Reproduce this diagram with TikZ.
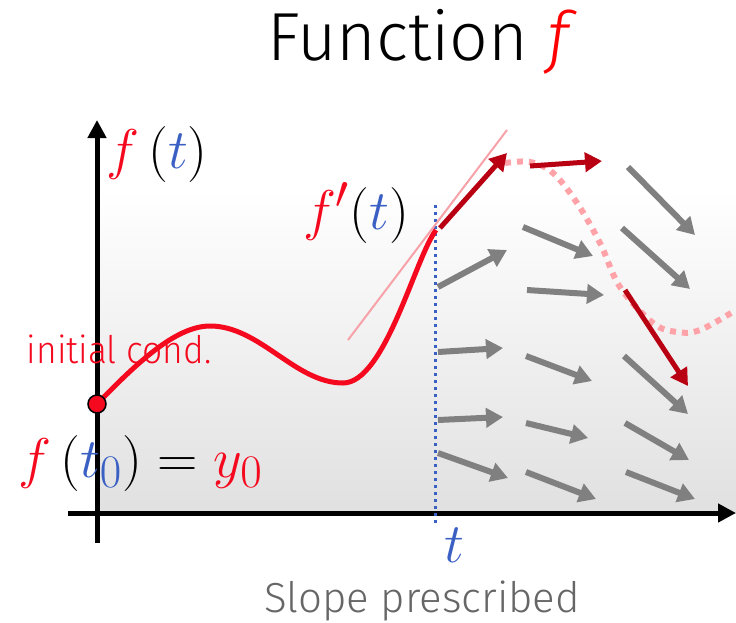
\documentclass[tikz,border=0pt]{standalone}
\usepackage{fontspec}
\setmainfont{Lato}
\newfontfamily\lightfont{Fira Sans Light}
\usetikzlibrary{arrows.meta}
\definecolor{cred}{HTML}{F5091E}
\definecolor{dred}{HTML}{B80012}
\definecolor{pinkd}{HTML}{FFA3A9}
\definecolor{tanpink}{HTML}{F7A1A8}
\definecolor{tblue}{HTML}{3A60C4}
\definecolor{agray}{HTML}{808080}
\definecolor{sgray}{HTML}{666666}
\newcommand{\bigmath}[2]{\scalebox{#1}{\Huge$#2$}}
\tikzset{
  vec/.style={agray, line width=6pt, -{Triangle[length=17pt,width=19pt]}},
  dvec/.style={dred, line width=5pt, -{Triangle[length=17pt,width=19pt]}},
  axisline/.style={black, line width=5pt, -{Triangle[length=18pt,width=18pt]}},
  lbl/.style={inner sep=0pt, outer sep=0pt},
}
\begin{document}
\begin{tikzpicture}[x=1pt,y=-1pt]
\useasboundingbox (0,0) rectangle (736,622);
% background gradient
\shade[top color=white, bottom color=black!12] (97,190) rectangle (736,513);
% axes
\coordinate (yb) at (97,543);
\coordinate (yt) at (97,120);
\coordinate (xl) at (68,513);
\coordinate (xr) at (736,513);
\draw[axisline] (yb) -- (yt);
\draw[axisline] (xl) -- (xr);
% dotted time line
\coordinate (tl1) at (435,205);
\coordinate (tl2) at (435,526);
\draw[tblue, line width=3pt, dash pattern=on 3pt off 4pt] (tl1) -- (tl2);
% dotted continuation
\draw[pinkd, line width=6pt, dash pattern=on 6pt off 6pt] plot[smooth, tension=0.6] coordinates {(505,163) (530,162) (553,173) (577,203) (600,243) (620,287) (653,323) (677,332) (700,330) (736,310)};
% tangent
\coordinate (tg1) at (348,340);
\coordinate (tg2) at (507,130);
\draw[tanpink, line width=2pt] (tg1) -- (tg2);
% solution curve
\coordinate (p0) at (97,404);
\draw[cred, line width=5pt] (p0) .. controls (135,365) and (175,326) .. (210,326) .. controls (260,326) and (295,383) .. (343,383) .. controls (385,383) and (415,258) .. (436,230);
% gray slope field
\draw[vec] (628,167) -- (695,235);
\draw[vec] (523,227) -- (593,256);
\draw[vec] (622,228) -- (690,289);
\draw[vec] (438,287) -- (507,250);
\draw[vec] (527,290) -- (604,295);
\draw[vec] (438,352) -- (503,348);
\draw[vec] (526,356) -- (592,381);
\draw[vec] (624,356) -- (688,414);
\draw[vec] (438,420) -- (503,417);
\draw[vec] (526,423) -- (588,438);
\draw[vec] (625,423) -- (689,460);
\draw[vec] (438,453) -- (508,478);
\draw[vec] (526,472) -- (596,499);
\draw[vec] (626,472) -- (695,499);
% dark red steps
\draw[dvec] (440,228) -- (507,153);
\draw[dvec] (530,166) -- (602,161);
\draw[dvec] (625,290) -- (688,386);
% initial point
\node[circle, fill=cred, draw=black, line width=1.5pt, minimum size=18pt, inner sep=0pt] (ic) at (p0) {};
% labels
\node[lbl, anchor=base] (title) at (422,60) {\fontsize{68}{78}\selectfont\lightfont Function \textcolor{red}{\textit{f}}};
\node[lbl, anchor=base] (slope) at (422,612) {\fontsize{42}{48}\selectfont\lightfont\color{sgray} Slope prescribed};
\node[lbl, anchor=base west, text=cred] (init) at (27,363) {\scalebox{0.93}[1]{\fontsize{38}{44}\selectfont\lightfont initial cond.}};
\node[lbl, anchor=base west] (fy) at (106,168) {\bigmath{2.25}{\textcolor{cred}{f}\,(\textcolor{tblue}{t})}};
\node[lbl, anchor=base west] (fp) at (303,229) {\bigmath{2.25}{\textcolor{cred}{f'}(\textcolor{tblue}{t})}};
\node[lbl, anchor=base west] (f0) at (18,477) {\bigmath{2.25}{\textcolor{cred}{f}\,(\textcolor{tblue}{t_0})=\textcolor{cred}{y_0}}};
\node[lbl, anchor=base, text=tblue] (tx) at (454,562) {\bigmath{2.25}{t}};
\end{tikzpicture}
\end{document}
